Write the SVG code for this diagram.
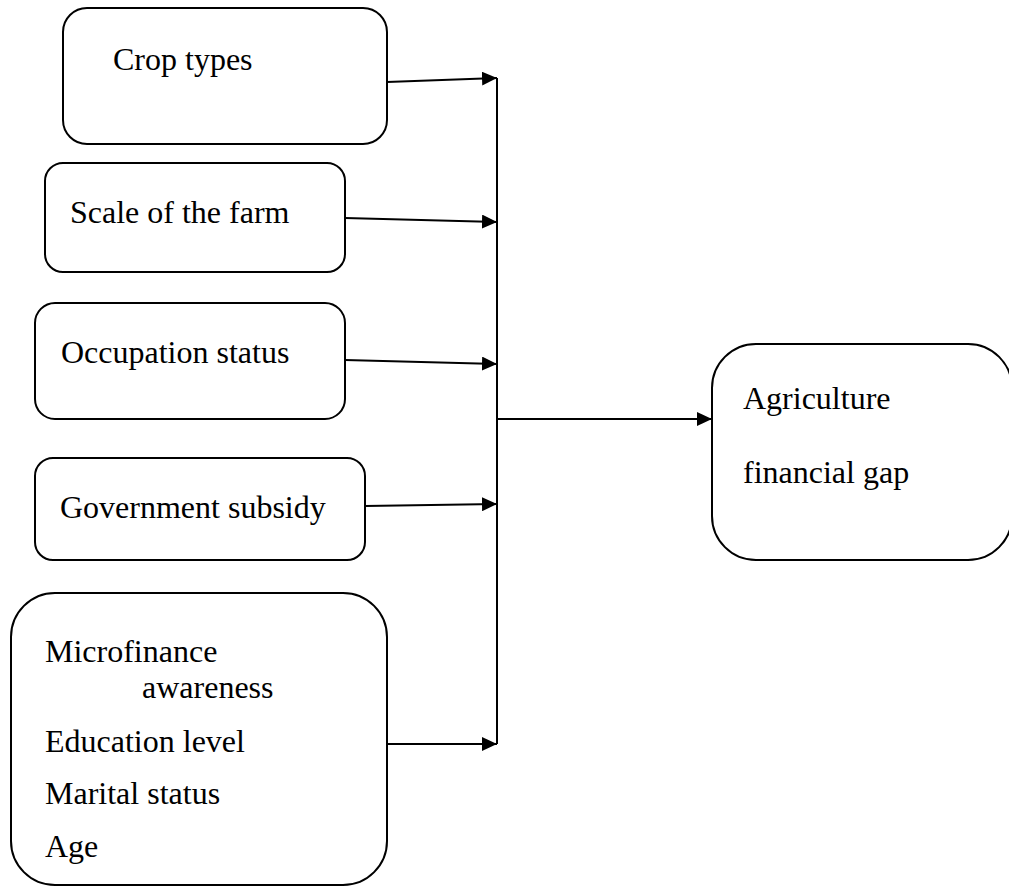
<svg xmlns="http://www.w3.org/2000/svg" width="1009" height="888" viewBox="0 0 1009 888">
<style>
.box{fill:#fff;stroke:#000;stroke-width:2}
.t{font-family:"Liberation Serif","Times New Roman",serif;font-size:32px;fill:#000}
.c{fill:none;stroke:#000;stroke-width:2}
</style>
<defs>
<marker id="ah" markerUnits="userSpaceOnUse" markerWidth="16" markerHeight="14" refX="15" refY="7" orient="auto">
<path d="M0,0 L15,7 L0,14 Z" fill="#000"/>
</marker>
</defs>
<rect width="1009" height="888" fill="#fff"/>
<g id="n-crop"><rect class="box" x="63" y="8" width="324" height="136" rx="24"/><text class="t" x="113" y="70">Crop types</text></g>
<g id="n-scale"><rect class="box" x="45" y="163" width="300" height="109" rx="18"/><text class="t" x="70" y="223">Scale of the farm</text></g>
<g id="n-occ"><rect class="box" x="35" y="303" width="310" height="116" rx="20"/><text class="t" x="61" y="363">Occupation status</text></g>
<g id="n-gov"><rect class="box" x="35" y="458" width="330" height="102" rx="18"/><text class="t" x="60" y="518">Government subsidy</text></g>
<g id="n-demo"><rect class="box" x="11" y="593" width="376" height="292" rx="44"/>
<text class="t" x="45" y="662">Microfinance</text>
<text class="t" x="142" y="698">awareness</text>
<text class="t" x="45" y="752">Education level</text>
<text class="t" x="45" y="804">Marital status</text>
<text class="t" x="45" y="857">Age</text></g>
<g id="n-target"><rect class="box" x="712" y="344" width="300" height="216" rx="44"/>
<text class="t" x="743" y="409">Agriculture</text>
<text class="t" x="743" y="483">financial gap</text></g>
<g id="connectors">
<line class="c" x1="497" y1="78" x2="497" y2="744"/>
<line class="c" x1="387" y1="82" x2="497" y2="78" marker-end="url(#ah)"/>
<line class="c" x1="345" y1="218" x2="497" y2="222" marker-end="url(#ah)"/>
<line class="c" x1="345" y1="360" x2="497" y2="364" marker-end="url(#ah)"/>
<line class="c" x1="365" y1="506" x2="497" y2="504" marker-end="url(#ah)"/>
<line class="c" x1="387" y1="744" x2="497" y2="744" marker-end="url(#ah)"/>
<line class="c" x1="497" y1="419" x2="712" y2="419" marker-end="url(#ah)"/>
</g>
</svg>
